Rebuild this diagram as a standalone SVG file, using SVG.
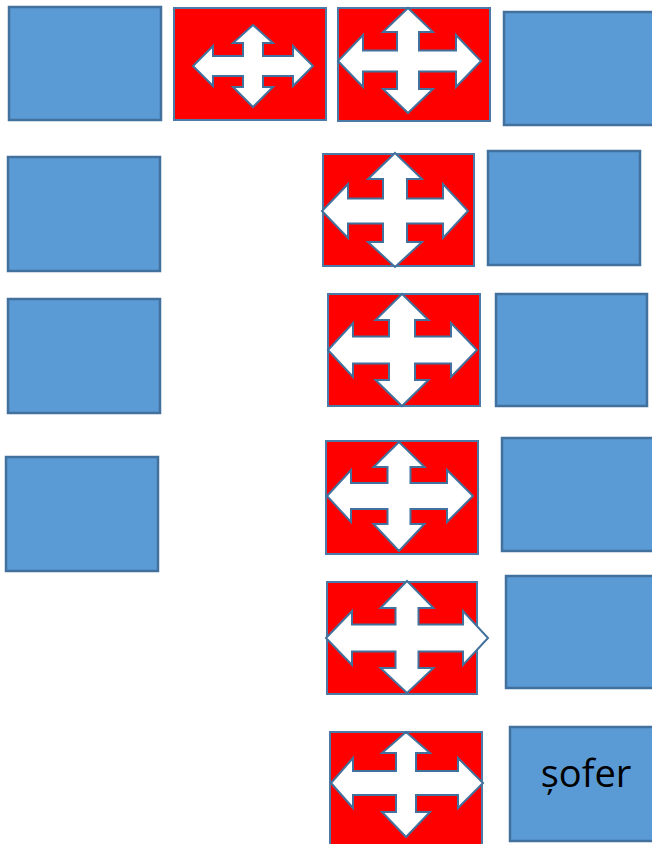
<svg xmlns="http://www.w3.org/2000/svg" width="652" height="844" viewBox="0 0 652 844">
<style>
.blue{fill:#5B9BD5;stroke:#41719C;stroke-width:2.5}
.red{fill:#FF0000;stroke:#4A7AA5;stroke-width:2}
.cross{fill:#FFFFFF;stroke:#41719C;stroke-width:2;stroke-linejoin:miter}
.lbl{font-family:"Open Sans","Liberation Sans",sans-serif;font-size:38px;fill:#000000}
</style>
<rect width="652" height="844" fill="#FFFFFF"/>
<g id="b1"><rect class="blue" x="9" y="7" width="152" height="113"/></g>
<g id="b2"><rect class="blue" x="504" y="12" width="156" height="113"/></g>
<g id="b3"><rect class="blue" x="8" y="157" width="152" height="114"/></g>
<g id="b4"><rect class="blue" x="488" y="151" width="152" height="114"/></g>
<g id="b5"><rect class="blue" x="8" y="299" width="152" height="114"/></g>
<g id="b6"><rect class="blue" x="496" y="294" width="151" height="112"/></g>
<g id="b7"><rect class="blue" x="6" y="457" width="152" height="114"/></g>
<g id="b8"><rect class="blue" x="502" y="438" width="156" height="113"/></g>
<g id="b9"><rect class="blue" x="506" y="576" width="154" height="112"/></g>
<g id="b10"><rect class="blue" x="510" y="727" width="154" height="114"/><text class="lbl" x="586" y="787" text-anchor="middle">șofer</text></g>

<g id="r1"><rect class="red" x="174" y="8" width="152" height="112"/>
<path class="cross" d="M253,25 L273,43 L263,43 L263,56 L293,56 L293,46 L313,66 L293,86 L293,76 L263,76 L263,87 L273,87 L253,107 L233,87 L243,87 L243,76 L213,76 L213,86 L193,66 L213,46 L213,56 L243,56 L243,43 L233,43 Z"/></g>
<g id="r2"><rect class="red" x="338" y="8" width="152" height="113"/>
<path class="cross" d="M408,8 L433,32 L419,32 L419,50.5 L456,50.5 L456,35 L481,61 L456,87 L456,71.5 L419,71.5 L419,89 L433,89 L408,113 L383,89 L397,89 L397,71.5 L363,71.5 L363,87 L338,61 L363,35 L363,50.5 L397,50.5 L397,32 L383,32 Z"/></g>
<g id="r3"><rect class="red" x="323" y="154" width="151" height="112"/>
<path class="cross" d="M395,153 L422,179 L407,179 L407,198.5 L443,198.5 L443,184 L468,211 L443,238 L443,223.5 L407,223.5 L407,242 L422,242 L395,267 L368,242 L383,242 L383,223.5 L348,223.5 L348,238 L322,211 L348,184 L348,198.5 L383,198.5 L383,179 L368,179 Z"/></g>
<g id="r4"><rect class="red" x="328" y="294" width="152" height="112"/>
<path class="cross" d="M402,294 L428.5,320 L415,320 L415,336.5 L451,336.5 L451,323 L477,350 L451,377 L451,363.5 L415,363.5 L415,380 L428.5,380 L402,406 L375.5,380 L389,380 L389,363.5 L353,363.5 L353,377 L328,350 L353,323 L353,336.5 L389,336.5 L389,320 L375.5,320 Z"/></g>
<g id="r5"><rect class="red" x="326" y="441" width="152" height="113"/>
<path class="cross" d="M399,442 L424.5,467 L410.5,467 L410.5,483 L447,483 L447,470 L473,496 L447,522 L447,509 L410.5,509 L410.5,524 L424.5,524 L399,551 L373.5,524 L387.5,524 L387.5,509 L351,509 L351,522 L327,496 L351,470 L351,483 L387.5,483 L387.5,467 L373.5,467 Z"/></g>
<g id="r6"><rect class="red" x="327" y="582" width="150" height="112"/>
<path class="cross" d="M407,581 L433.5,608 L418.5,608 L418.5,624.5 L463,624.5 L463,611 L488,638 L463,665 L463,651.5 L418.5,651.5 L418.5,668 L433.5,668 L407,693 L380.5,668 L395.5,668 L395.5,651.5 L352,651.5 L352,665 L326,638 L352,611 L352,624.5 L395.5,624.5 L395.5,608 L380.5,608 Z"/></g>
<g id="r7"><rect class="red" x="330" y="732" width="152" height="120"/>
<path class="cross" d="M406,732 L430,753 L416,753 L416,771 L458,771 L458,758 L483,783 L458,808 L458,795 L416,795 L416,812 L430,812 L406,837 L382,812 L396,812 L396,795 L353,795 L353,808 L331,783 L353,758 L353,771 L396,771 L396,753 L382,753 Z"/></g>
<g id="connectors"/>
</svg>
